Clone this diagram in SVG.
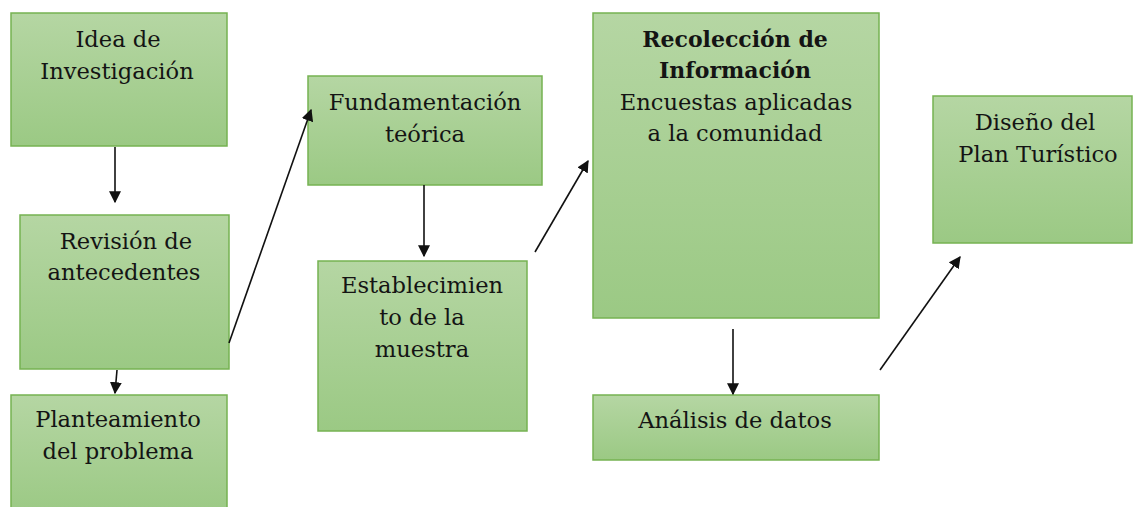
<svg xmlns="http://www.w3.org/2000/svg" width="1133" height="507" viewBox="0 0 1133 507">
<defs>
<linearGradient id="g" x1="0" y1="0" x2="0" y2="1">
<stop offset="0" stop-color="#b5d6a3"/>
<stop offset="1" stop-color="#9bc984"/>
</linearGradient>
<marker id="ah" viewBox="0 0 10 10" refX="9" refY="5" markerWidth="12" markerHeight="12" markerUnits="userSpaceOnUse" orient="auto">
<path d="M0,0 L10,5 L0,10 Z" fill="#111"/>
</marker>
<style>
.box{fill:url(#g);stroke:#76b252;stroke-width:1.5}
.t{font-family:"DejaVu Serif","Liberation Serif",serif;font-size:22.6px;fill:#141414;text-anchor:middle}
.b{font-weight:bold;font-size:22px}
.c line{stroke:#111;stroke-width:1.6;marker-end:url(#ah)}
</style>
</defs>
<rect width="1133" height="507" fill="#fff"/>
<g id="n1"><rect class="box" x="11" y="13" width="216" height="133"/>
<text class="t" x="118" y="47">Idea de</text><text class="t" x="117" y="79">Investigación</text></g>
<g id="n2"><rect class="box" x="20" y="215" width="209" height="154"/>
<text class="t" x="126" y="249">Revisión de</text><text class="t" x="124" y="280">antecedentes</text></g>
<g id="n3"><rect class="box" x="11" y="395" width="216" height="120"/>
<text class="t" x="118" y="427">Planteamiento</text><text class="t" x="118" y="459">del problema</text></g>
<g id="n4"><rect class="box" x="308" y="76" width="234" height="109"/>
<text class="t" x="425" y="110">Fundamentación</text><text class="t" x="425" y="142">teórica</text></g>
<g id="n5"><rect class="box" x="318" y="261" width="209" height="170"/>
<text class="t" x="422" y="293">Establecimien</text><text class="t" x="422" y="325">to de la</text><text class="t" x="422" y="357">muestra</text></g>
<g id="n6"><rect class="box" x="593" y="13" width="286" height="305"/>
<text class="t b" x="735" y="47">Recolección de</text><text class="t b" x="735" y="78">Información</text>
<text class="t" x="736" y="110">Encuestas aplicadas</text><text class="t" x="735" y="141">a la comunidad</text></g>
<g id="n7"><rect class="box" x="593" y="395" width="286" height="65"/>
<text class="t" x="735" y="428">Análisis de datos</text></g>
<g id="n8"><rect class="box" x="933" y="96" width="199" height="147"/>
<text class="t" x="1035" y="130">Diseño del</text><text class="t" x="1038" y="162">Plan Turístico</text></g>
<g class="c" id="connectors">
<line x1="115" y1="147" x2="115" y2="202"/>
<line x1="117" y1="370" x2="115" y2="393"/>
<line x1="229" y1="343" x2="311" y2="110"/>
<line x1="424" y1="185" x2="424" y2="256"/>
<line x1="535" y1="252" x2="588" y2="161"/>
<line x1="733" y1="329" x2="733" y2="394"/>
<line x1="880" y1="370" x2="960" y2="257"/>
</g>
</svg>
